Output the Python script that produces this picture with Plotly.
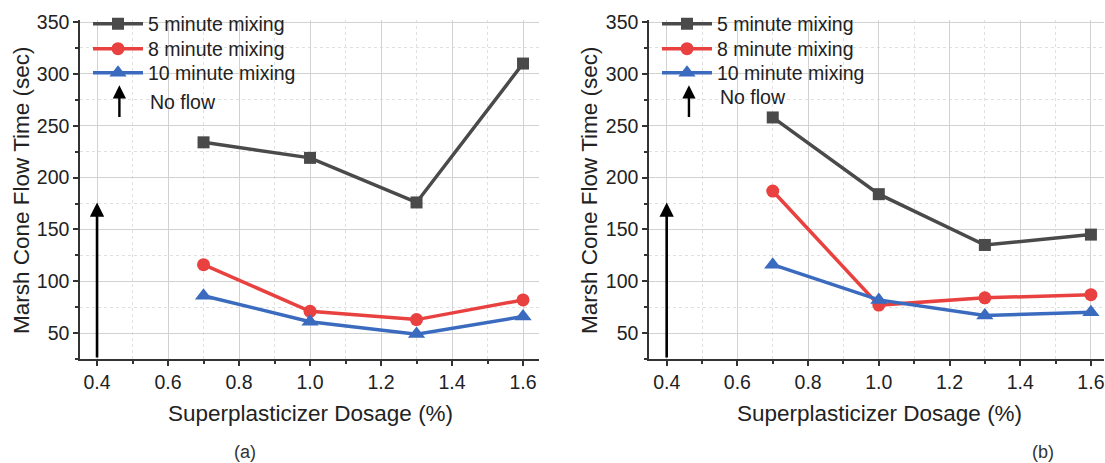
import plotly.graph_objects as go

dosage = [0.7, 1.0, 1.3, 1.6]
series_names = ["5 minute mixing", "8 minute mixing", "10 minute mixing"]
a_5min = [234, 219, 176, 310]
a_8min = [116, 71, 63, 82]
a_10min = [86, 61, 49, 66]
b_5min = [258, 184, 135, 145]
b_8min = [187, 77, 84, 87]
b_10min = [116, 82, 67, 70]

colors = ["#4a4a4a", "#e8413f", "#3a6bbf"]
symbols = ["square", "circle", "triangle-up"]
marker_sizes = [12, 13, 15]

no_flow_x = 0.4
no_flow_y0 = 25
no_flow_y1 = 176
key_arrow_x = 0.463
key_arrow_y = [257, 289]

x_ticks = [0.4, 0.6, 0.8, 1.0, 1.2, 1.4, 1.6]
y_ticks = [50, 100, 150, 200, 250, 300, 350]

FONT = "Liberation Sans, Arial, sans-serif"
W, H = 1105, 463
fig = go.Figure()

legend_rows_px = [24, 49, 73]
panels = [("x", "y", 88, [a_5min, a_8min, a_10min], 0),
          ("x2", "y2", 657, [b_5min, b_8min, b_10min], 3)]
legend_layout = {}
for xa, ya, lx, data, off in panels:
    for i, (name, vals, c, s, ms) in enumerate(zip(series_names, data, colors, symbols, marker_sizes)):
        idx = off + i + 1
        lname = "legend" if idx == 1 else f"legend{idx}"
        fig.add_trace(go.Scatter(
            x=dosage, y=vals, name=name, mode="lines+markers",
            xaxis=xa, yaxis=ya, legend=lname,
            line=dict(color=c, width=3.5),
            marker=dict(symbol=s, size=ms, color=c),
        ))
        legend_layout[lname] = dict(
            x=lx / W, y=1 - legend_rows_px[i] / H, xanchor="left", yanchor="middle",
            bgcolor="rgba(0,0,0,0)", borderwidth=0,
            font=dict(family=FONT, size=19.5, color="#222"),
            itemwidth=50)

top_px, bot_px = 20, 359
ydom = [(H - bot_px) / H, (H - top_px) / H]

axis_common = dict(
    showline=True, linecolor="#333", linewidth=1.5, automargin=False,
    ticks="outside", ticklen=5, tickwidth=1.5, tickcolor="#333",
    showgrid=True, gridcolor="#d2d2d2", gridwidth=1,
    tickfont=dict(family=FONT, size=19.5, color="#222"),
    zeroline=False, mirror=False,
)
xaxis_common = dict(axis_common, tickvals=x_ticks, ticktext=[f"{v:.1f}" for v in x_ticks],
                    minor=dict(dtick=0.1, tick0=0.4, ticks="outside", ticklen=3, tickcolor="#333",
                               showgrid=True, gridcolor="#e0e0e0", griddash="dot"))
yaxis_common = dict(axis_common, tickvals=y_ticks,
                    minor=dict(dtick=25, tick0=0, ticks="outside", ticklen=3, tickcolor="#333",
                               showgrid=True, gridcolor="#e0e0e0", griddash="dot"))

fig.update_layout(
    width=W, height=H, margin=dict(l=0, r=0, t=0, b=0, autoexpand=False),
    paper_bgcolor="white", plot_bgcolor="white",
    showlegend=True,
    xaxis=dict(xaxis_common, domain=[80 / W, 539 / W], range=[0.352, 1.645], anchor="y"),
    yaxis=dict(yaxis_common, domain=ydom, range=[25, 352], anchor="x"),
    xaxis2=dict(xaxis_common, domain=[649 / W, 1104 / W], range=[0.35, 1.637], anchor="y2"),
    yaxis2=dict(yaxis_common, domain=ydom, range=[25, 352], anchor="x2"),
    **legend_layout,
)

annotations = []
for xa, ya, xmid, ytx, nfx, nfy, lab, labx in [
        ("x", "y", 310, 21, 148, 102, "(a)", 245),
        ("x2", "y2", 880, 589, 718, 97, "(b)", 1043)]:
    annotations.append(dict(x=no_flow_x, y=no_flow_y1, ax=no_flow_x, ay=no_flow_y0,
                            xref=xa, yref=ya, axref=xa, ayref=ya, text="", showarrow=True,
                            arrowhead=2, arrowsize=1.1, arrowwidth=2.6, arrowcolor="black"))
    annotations.append(dict(x=key_arrow_x, y=key_arrow_y[1], ax=key_arrow_x, ay=key_arrow_y[0],
                            xref=xa, yref=ya, axref=xa, ayref=ya, text="", showarrow=True,
                            arrowhead=2, arrowsize=1.1, arrowwidth=2.4, arrowcolor="black"))
    annotations.append(dict(x=xmid / W, y=1 - 413 / H, xref="paper", yref="paper",
                            text="Superplasticizer Dosage (%)", showarrow=False,
                            font=dict(family=FONT, size=22.5, color="#222"),
                            xanchor="center", yanchor="middle"))
    annotations.append(dict(x=ytx / W, y=1 - 190 / H, xref="paper", yref="paper",
                            text="Marsh Cone Flow Time (sec)", showarrow=False, textangle=-90,
                            font=dict(family=FONT, size=22.5, color="#222"),
                            xanchor="center", yanchor="middle"))
    annotations.append(dict(x=nfx / W, y=1 - nfy / H, xref="paper", yref="paper", text="No flow",
                            showarrow=False, font=dict(family=FONT, size=19.5, color="#222"),
                            xanchor="left", yanchor="middle"))
    annotations.append(dict(x=labx / W, y=1 - 452 / H, xref="paper", yref="paper", text=lab,
                            showarrow=False, font=dict(family=FONT, size=18, color="#333"),
                            xanchor="center", yanchor="middle"))
fig.update_layout(annotations=annotations)

fig.write_html("out.html")
